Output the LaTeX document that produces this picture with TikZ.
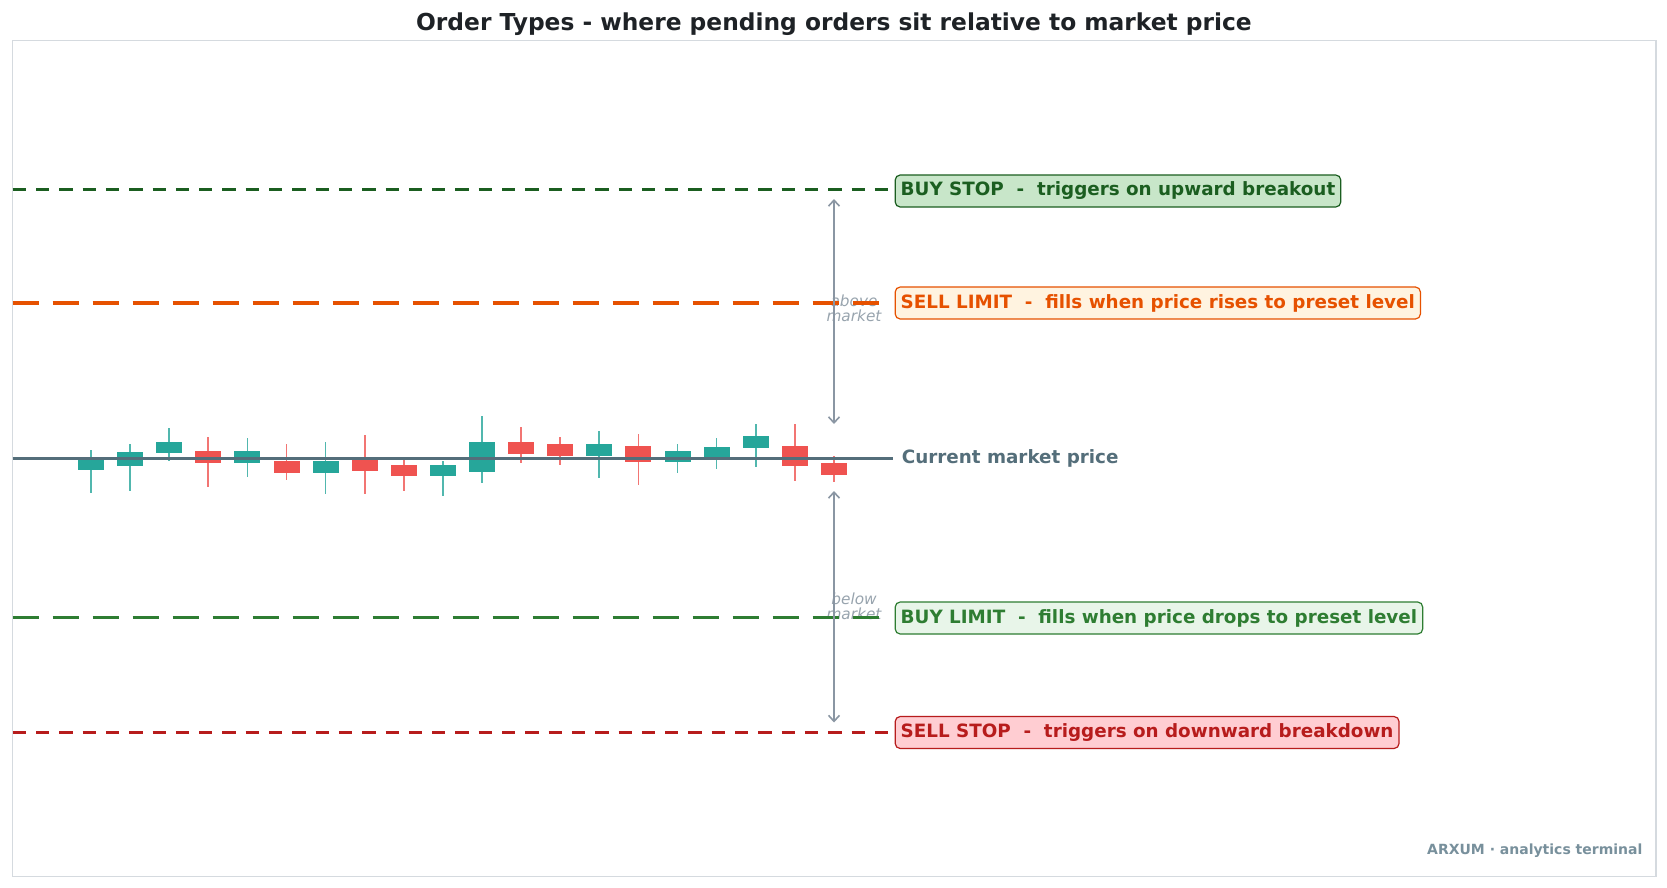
\documentclass[tikz,border=0pt]{standalone}
\usepackage{fontspec}
\setmainfont{DejaVu Sans}
\usetikzlibrary{arrows.meta}
\definecolor{frameC}{HTML}{D5DADF}
\definecolor{titleC}{HTML}{1E2226}
\definecolor{upC}{HTML}{26A69A}
\definecolor{dnC}{HTML}{EF5350}
\definecolor{mktC}{HTML}{546E7A}
\definecolor{arrC}{HTML}{8A96A3}
\definecolor{noteC}{HTML}{98A4AE}
\definecolor{footC}{HTML}{78909C}
\definecolor{bsC}{HTML}{1B5E20}\definecolor{bsF}{HTML}{C8E6C9}
\definecolor{slC}{HTML}{E65100}\definecolor{slF}{HTML}{FFF3E0}
\definecolor{blC}{HTML}{2E7D32}\definecolor{blF}{HTML}{E8F5E9}
\definecolor{ssC}{HTML}{B71C1C}\definecolor{ssF}{HTML}{FFCDD2}
\newcommand{\lblfont}{\fontsize{18.33}{22}\selectfont\bfseries}
\tikzset{
  lvl/.style={line width=3.2pt},
  shortdash/.style={dash pattern=on 13.3pt off 10pt},
  longdash/.style={dash pattern=on 26.7pt off 13.3pt},
  tag/.style={draw, rounded corners=5pt, line width=1.2pt, inner xsep=5.5pt, inner ysep=0pt,
    minimum height=32pt, anchor=west, font=\lblfont},
  wick/.style={line width=1.7pt, opacity=0.8},
  span/.style={draw=arrC, line width=1.6pt, {Straight Barb[length=6pt,width=11pt]}-{Straight Barb[length=6pt,width=11pt]}},
  note/.style={text=noteC, font=\fontsize{15.3}{17}\selectfont\itshape, align=center, inner sep=0pt},
}
\begin{document}
\begin{tikzpicture}[x=1pt,y=-1pt]
\useasboundingbox (0,0) rectangle (1667,888);
\fill[white] (0,0) rectangle (1667,888);
% title
\node[text=titleC, font=\fontsize{23.33}{28}\selectfont\bfseries] (title) at (834,24) {Order Types - where pending orders sit relative to market price};
% frame
\draw[frameC, line width=1.2pt] (12.7,40.4) rectangle (1656,876.5);
% candles
\foreach \i/\bt/\bb/\wt/\wb/\c in {
 0/459.3/469.7/450/492.7/upC, 1/452/465.7/444/490.7/upC, 2/442/452.7/428/461/upC,
 3/451/462.7/437/486.7/dnC, 4/451/462.7/438.3/476.7/upC, 5/461/472.7/444/480/dnC,
 6/461/472.7/442/494/upC, 7/459.3/470.7/435/494/dnC, 8/465/475.7/459.3/490.7/dnC,
 9/465/475.7/461/496/upC, 10/442/471.7/416/482.7/upC, 11/442/453.7/427/462.7/dnC,
 12/444/455.7/437/464.7/dnC, 13/444/455.7/431/477.7/upC, 14/446/461.7/434/484.7/dnC,
 15/451/461.7/444/472.7/upC, 16/447/458.7/438/468.7/upC, 17/436/447.7/424/466.7/upC,
 18/446/465.7/424/480.7/dnC, 19/463/474.7/456/481.7/dnC}{
  \pgfmathsetmacro{\cx}{91+39.1*\i}
  \draw[wick, \c] (\cx,\wt) -- (\cx,\wb);
  \fill[\c] (\cx-13,\bt) rectangle (\cx+13,\bb);
}
% level coordinates
\coordinate (bsL) at (12.7,189.3); \coordinate (bsR) at (890,189.3);
\coordinate (slL) at (12.7,303);   \coordinate (slR) at (890,303);
\coordinate (mkL) at (12.7,458); \coordinate (mkR) at (893,458);
\coordinate (blL) at (12.7,617.7); \coordinate (blR) at (890,617.7);
\coordinate (ssL) at (12.7,732.5); \coordinate (ssR) at (890,732.5);
% notes
\node[note] (above) at (854,308.5) {above\\[-2pt]market};
\node[note] (below) at (854,606.5) {below\\[-2pt]market};
% level lines
\draw[lvl, shortdash, bsC] (bsL) -- (bsR);
\draw[lvl, longdash, slC] (slL) -- (slR);
\draw[lvl, mktC, line width=3pt] (mkL) -- (mkR);
\draw[lvl, longdash, blC] (blL) -- (blR);
\draw[lvl, shortdash, ssC] (ssL) -- (ssR);
% labels
\node[tag, draw=bsC, fill=bsF, text=bsC] (bs) at (894.6,191) {BUY STOP\ \ -\ \ triggers on upward breakout};
\node[tag, draw=slC, fill=slF, text=slC] (sl) at (894.6,303) {SELL LIMIT\ \ -\ \ fills when price rises to preset level};
\node[anchor=west, inner sep=0pt, text=mktC, font=\lblfont] (mk) at (901.6,458.5) {Current market price};
\node[tag, draw=blC, fill=blF, text=blC] (bl) at (894.6,618) {BUY LIMIT\ \ -\ \ fills when price drops to preset level};
\node[tag, draw=ssC, fill=ssF, text=ssC] (ss) at (894.6,732.5) {SELL STOP\ \ -\ \ triggers on downward breakdown};
% arrows
\coordinate (a1) at (834,199); \coordinate (a2) at (834,424);
\coordinate (b1) at (834,491); \coordinate (b2) at (834,722.5);
\draw[span] (a1) -- (a2);
\draw[span] (b1) -- (b2);
% footer
\node[anchor=east, text=footC, font=\fontsize{14}{16}\selectfont\bfseries, inner sep=0pt] (foot) at (1642.6,851) {ARXUM · analytics terminal};
\end{tikzpicture}
\end{document}
